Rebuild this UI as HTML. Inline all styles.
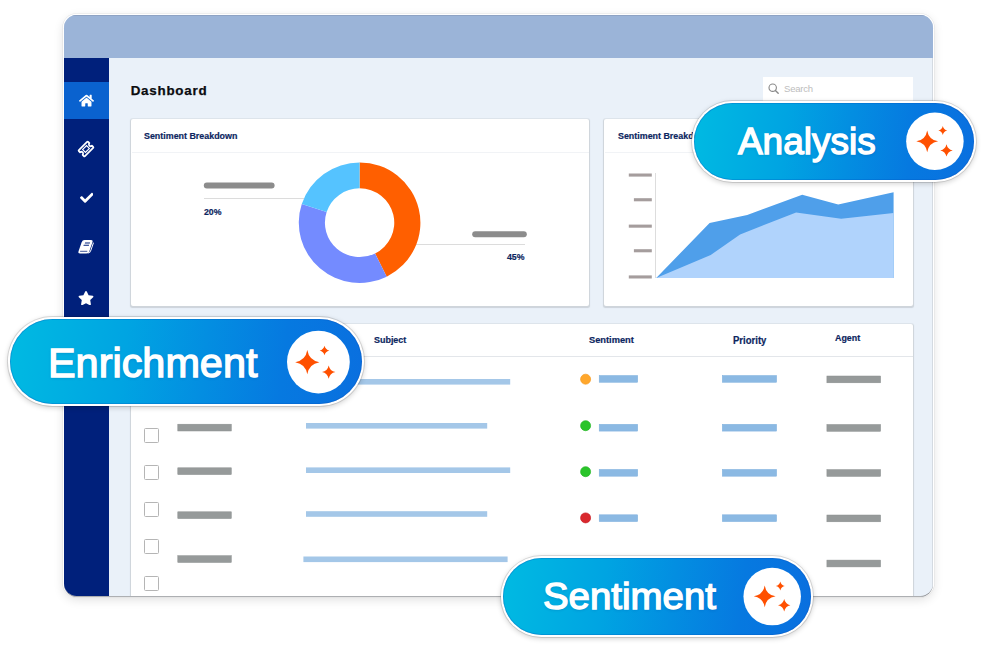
<!DOCTYPE html>
<html>
<head>
<meta charset="utf-8">
<style>
*{box-sizing:border-box;margin:0;padding:0}
html,body{width:985px;height:646px;overflow:hidden;background:#fff;font-family:"Liberation Sans",sans-serif;}
body{position:relative}
.abs{position:absolute}
#win{position:absolute;left:64.3px;top:15px;width:868.8px;height:581px;border-radius:12.5px;overflow:hidden;background:#eaf1f9;
  box-shadow:0 .8px 0 0 rgba(110,112,118,.75),0 0 0 1.2px #fff,0 0 0 1.7px rgba(0,0,0,.08),0 3px 11px rgba(0,0,0,.14);}
#titlebar{position:absolute;left:0;top:0;width:100%;height:43px;background:#9bb4d8;border-top:1px solid #8ea3c4}
#side{position:absolute;left:0;top:43px;width:44.4px;bottom:0;background:#00207b}
#side .act{position:absolute;left:0;top:24px;width:44.4px;height:37px;background:#0a62cf}
.card{position:absolute;background:#fff;border-radius:2px;box-shadow:0 0 0 1px rgba(208,214,220,.45),.3px .8px .8px .5px rgba(178,184,190,.5)}
.h{position:absolute;font-weight:bold;color:#0b2560;font-size:9.9px;white-space:nowrap;line-height:1;transform-origin:0 0;-webkit-text-stroke:.2px #0b2560}
.cb{position:absolute;width:15px;height:15px;border:1px solid #b5b5b5;border-radius:1.5px;background:#fff;left:143.8px}
.pill{position:absolute;border-radius:60px;
  background:linear-gradient(97deg,#00b9e2 2%,#00a4e2 33%,#038ee1 55%,#0679e0 77%,#0a6fdf 100%);
  box-shadow:inset 0 0 0 .8px rgba(0,80,190,.35),0 0 0 2.1px #fff,0 0 0 3px rgba(0,0,0,.12),0 1.5px 5px 2.6px rgba(0,0,0,.17);}
.pill .t{position:absolute;color:#fff;white-space:nowrap;line-height:1;font-weight:normal;-webkit-text-stroke:1.35px #fff;transform-origin:0 0;text-shadow:0 1px 3px rgba(0,40,120,.25)}
</style>
</head>
<body>

<div id="win">
  <div id="titlebar"></div>
  <div style="position:absolute;right:0;top:43px;bottom:0;width:1px;background:#d4dae1"></div>
  <div id="side">
    <div class="act"></div>
  </div>
  <div id="in" style="position:absolute;left:-64.3px;top:-15px;width:985px;height:646px">
<!-- sidebar icons (page coords) -->
<svg class="abs" style="left:79.2px;top:94.3px" width="15" height="13.3" viewBox="0 0 576 512"><path fill="#fff" d="M280.37 148.26L96 300.11V464a16 16 0 0 0 16 16l112.06-.29a16 16 0 0 0 15.92-16V368a16 16 0 0 1 16-16h64a16 16 0 0 1 16 16v95.640a16 16 0 0 0 16 16.050L464 480a16 16 0 0 0 16-16V300L295.670 148.260a12.190 12.190 0 0 0-15.300 0zM571.600 251.470L488 182.560V44.050a12 12 0 0 0-12-12h-56a12 12 0 0 0-12 12v72.610L318.470 43a48 48 0 0 0-61 0L4.340 251.470a12 12 0 0 0-1.600 16.900l25.500 31A12 12 0 0 0 45.150 301l235.220-193.740a12.190 12.190 0 0 1 15.300 0L530.900 301a12 12 0 0 0 16.900-1.600l25.500-31a12 12 0 0 0-1.700-16.930z"/></svg>

<svg class="abs" style="left:74px;top:137.300px;overflow:visible" width="24" height="24" viewBox="-12 -12 24 24"><g transform="rotate(-45)" fill="none" stroke="#fff"><path stroke-width="1.700" stroke-linejoin="round" d="M-5.800,-4.300 H5.800 a.8,.8 0 0 1 .8,.8 V-1.800 a1.800,1.800 0 0 0 0,3.600 V3.500 a.8,.8 0 0 1 -.8,.8 H-5.800 a.8,.8 0 0 1 -.8,-.8 V1.800 a1.800,1.800 0 0 0 0,-3.600 V-3.500 a.8,.8 0 0 1 .8,-.8 Z"/><rect x="-2.800" y="-2" width="5.600" height="4" stroke-width="1.150"/></g></svg>

<svg class="abs" style="left:79.800px;top:190.700px" width="13.600" height="13.600" viewBox="0 0 512 512"><path fill="#fff" d="M173.898 439.404l-166.400-166.400c-9.997-9.997-9.997-26.206 0-36.204l36.203-36.204c9.997-9.998 26.207-9.998 36.204 0L192 312.690 432.095 72.596c9.997-9.997 26.207-9.997 36.204 0l36.203 36.204c9.997 9.997 9.997 26.206 0 36.204l-294.400 294.401c-9.998 9.997-26.207 9.997-36.204-.001z"/></svg>

<svg class="abs" style="left:76px;top:238px;overflow:visible" width="20" height="18" viewBox="0 0 20 18"><g transform="translate(6.400,2) skewX(-19)"><rect x="0" y="0" width="10.800" height="13.400" rx="2.200" fill="#fff"/><rect x="3.600" y="2.600" width="5" height="1" fill="#00207b"/><rect x="3" y="4.800" width="5.400" height="1" fill="#00207b"/><path d="M1.600,11.300 H8.800" stroke="#00207b" stroke-width=".7" fill="none"/><path d="M12,3 V10.500 Q12,12.500 10.300,13" stroke="#fff" stroke-width="1" fill="none" stroke-linecap="round"/></g></svg>

<svg class="abs" style="left:78px;top:290.700px" width="16" height="14.200" viewBox="0 0 576 512"><path fill="#fff" d="M259.300 17.800L194 150.200 47.900 171.500c-26.200 3.800-36.700 36.100-17.700 54.600l105.700 103-25 145.500c-4.500 26.300 23.200 46 46.400 33.700L288 439.600l130.700 68.700c23.200 12.200 50.900-7.400 46.400-33.700l-25-145.500 105.700-103c19-18.500 8.500-50.800-17.700-54.600L382 150.200 316.700 17.800c-11.700-23.600-45.600-23.900-57.400 0z"/></svg>

<!-- Title + search -->
<div class="abs" style="left:130.700px;top:84px;transform:translateY(.2px);font-weight:bold;font-size:13.400px;letter-spacing:.75px;color:#0b0b0f;-webkit-text-stroke:.25px #0b0b0f;line-height:1;white-space:nowrap">Dashboard</div>

<div class="abs" style="left:763px;top:77px;width:150.200px;height:30px;background:#fff"></div>
<svg class="abs" style="left:766.700px;top:81.700px;overflow:visible" width="14" height="14" viewBox="0 0 14 14"><circle cx="5.700" cy="5.700" r="3.700" fill="none" stroke="#8a8a8a" stroke-width="1.150"/><path d="M8.400,8.500 L11.200,11.300" stroke="#8a8a8a" stroke-width="1.400" stroke-linecap="round"/></svg>
<div class="abs" style="left:784px;top:84.100px;font-size:9.500px;color:#bdbdbd;line-height:1;letter-spacing:-.2px">Search</div>

<!-- Card 1 -->
<div class="card" style="left:131.400px;top:119px;width:457.600px;height:187px"></div>
<div class="abs" style="left:131.800px;top:152.300px;width:456.800px;height:1px;background:#f1f3f6"></div>
<div class="h" style="left:144.200px;top:131.300px;transform:scaleX(.9)">Sentiment Breakdown</div>
<div class="abs" style="left:204px;top:198px;width:100px;height:1px;background:#dcdcdc"></div>
<div class="h" style="left:204.300px;top:206.600px;font-size:9.900px;transform:scaleX(.885)">20%</div>
<div class="abs" style="left:415px;top:243.500px;width:109.500px;height:1px;background:#dcdcdc"></div>
<div class="h" style="left:506.600px;top:251.600px;font-size:9.900px;transform:scaleX(.885)">45%</div>
<svg class="abs" style="left:298px;top:161px" width="124" height="124" viewBox="-62 -62 124 124">
  <g transform="translate(-.4,-.3) scale(1.005,.996)">
  <path fill="#ff5f00" d="M0,-60.500 A60.500,60.500 0 0 1 26.990,54.150 L15.390,30.870 A34.500,34.500 0 0 0 0,-34.500 Z"/>
  <path fill="#748bff" d="M26.990,54.150 A60.500,60.500 0 0 1 -57.540,-18.700 L-32.810,-10.660 A34.500,34.500 0 0 0 15.390,30.870 Z"/>
  <path fill="#55c3ff" d="M-57.540,-18.700 A60.500,60.500 0 0 1 0,-60.500 L0,-34.500 A34.500,34.500 0 0 0 -32.810,-10.660 Z"/>
  </g>
</svg>

<!-- Card 2 -->
<div class="card" style="left:604.300px;top:119px;width:308.700px;height:187px"></div>
<div class="abs" style="left:605px;top:152.300px;width:307.500px;height:1px;background:#f1f3f6"></div>
<div class="h" style="left:618.100px;top:131.300px;transform:scaleX(.9)">Sentiment Breakdown</div>
<div class="abs" style="left:655px;top:173px;width:1px;height:105px;background:#ddd"></div>

<!-- Table -->
<div class="card" style="left:131.400px;top:324.100px;width:782.100px;height:280px"></div>
<div class="abs" style="left:131.800px;top:356px;width:781px;height:1px;background:#e3e6ea"></div>
<div class="h" style="left:373.500px;top:335px;transform:scaleX(.905)">Subject</div>
<div class="h" style="left:589.300px;top:335px;transform:scaleX(.94)">Sentiment</div>
<div class="h" style="left:732.500px;top:335.600px;font-size:10.200px;transform:scaleX(.935)">Priority</div>
<div class="h" style="left:835px;top:333.400px;font-size:9.600px;transform:scaleX(.925)">Agent</div>

<div class="cb" style="top:428.300px"></div>
<div class="cb" style="top:465.300px"></div>
<div class="cb" style="top:502.200px"></div>
<div class="cb" style="top:539px"></div>
<div class="cb" style="top:576px"></div>







<svg class="abs" style="left:0;top:0;pointer-events:none" width="985" height="646" viewBox="0 0 985 646">
  <rect x="628.8" y="173.5" width="23.0" height="3.1" fill="#a59d9d"/>
  <rect x="633.9" y="198.2" width="17.9" height="3.1" fill="#a59d9d"/>
  <rect x="628.8" y="224.6" width="23.0" height="3.1" fill="#a59d9d"/>
  <rect x="633.9" y="249.2" width="17.9" height="3.1" fill="#a59d9d"/>
  <rect x="628.8" y="275.4" width="23.0" height="3.1" fill="#a59d9d"/>
  <rect x="306.0" y="379.0" width="204.2" height="5.6" fill="#a4c7e8"/>
  <rect x="306.0" y="423.0" width="181.2" height="5.6" fill="#a4c7e8"/>
  <rect x="306.0" y="467.4" width="204.2" height="5.6" fill="#a4c7e8"/>
  <rect x="306.0" y="511.2" width="181.2" height="5.6" fill="#a4c7e8"/>
  <rect x="303.4" y="556.5" width="204.2" height="5.6" fill="#a4c7e8"/>
  <rect x="599.2" y="375.5" width="38.5" height="6.8" fill="#8bb9e3" stroke="#7fb0de" stroke-width=".5"/>
  <rect x="599.2" y="424.3" width="38.5" height="6.8" fill="#8bb9e3" stroke="#7fb0de" stroke-width=".5"/>
  <rect x="599.2" y="469.4" width="38.5" height="6.8" fill="#8bb9e3" stroke="#7fb0de" stroke-width=".5"/>
  <rect x="599.2" y="514.8" width="38.5" height="6.8" fill="#8bb9e3" stroke="#7fb0de" stroke-width=".5"/>
  <rect x="722.3" y="375.5" width="54.3" height="6.8" fill="#8bb9e3" stroke="#7fb0de" stroke-width=".5"/>
  <rect x="722.3" y="424.3" width="54.3" height="6.8" fill="#8bb9e3" stroke="#7fb0de" stroke-width=".5"/>
  <rect x="722.3" y="469.4" width="54.3" height="6.8" fill="#8bb9e3" stroke="#7fb0de" stroke-width=".5"/>
  <rect x="722.3" y="514.8" width="54.3" height="6.8" fill="#8bb9e3" stroke="#7fb0de" stroke-width=".5"/>
  <rect x="177.8" y="424.2" width="53.5" height="6.8" fill="#969a9a" stroke="#8a8e8e" stroke-width=".5"/>
  <rect x="177.8" y="467.8" width="53.5" height="6.8" fill="#969a9a" stroke="#8a8e8e" stroke-width=".5"/>
  <rect x="177.8" y="511.8" width="53.5" height="6.8" fill="#969a9a" stroke="#8a8e8e" stroke-width=".5"/>
  <rect x="177.8" y="555.7" width="53.5" height="6.8" fill="#969a9a" stroke="#8a8e8e" stroke-width=".5"/>
  <rect x="826.9" y="376.0" width="53.7" height="6.8" fill="#969a9a" stroke="#8a8e8e" stroke-width=".5"/>
  <rect x="826.9" y="424.5" width="53.7" height="6.8" fill="#969a9a" stroke="#8a8e8e" stroke-width=".5"/>
  <rect x="826.9" y="469.6" width="53.7" height="6.8" fill="#969a9a" stroke="#8a8e8e" stroke-width=".5"/>
  <rect x="826.9" y="515.0" width="53.7" height="6.8" fill="#969a9a" stroke="#8a8e8e" stroke-width=".5"/>
  <rect x="826.9" y="560.1" width="53.7" height="6.8" fill="#969a9a" stroke="#8a8e8e" stroke-width=".5"/>
  <rect x="203.8" y="182.5" width="70.8" height="6.1" fill="#8c8c8c" rx="3"/>
  <rect x="472.2" y="231.2" width="54.6" height="6.1" fill="#8c8c8c" rx="3"/>
  <circle cx="585.600" cy="379.200" r="5" fill="#ffa72c" stroke="#f59b22" stroke-width=".7"/>
  <circle cx="585.600" cy="425.700" r="5" fill="#2ac42a" stroke="#22b422" stroke-width=".7"/>
  <circle cx="585.600" cy="471.700" r="5" fill="#2ac42a" stroke="#22b422" stroke-width=".7"/>
  <circle cx="585.600" cy="517.900" r="5" fill="#d9282d" stroke="#c82026" stroke-width=".7"/>
  <polygon fill="#4f9fea" points="656.200,278 709.600,223 747.200,215 802.200,194.800 838.200,204.500 893.600,192.300 893.600,278"/>
  <polygon fill="#b0d3fc" points="656.200,278 710.700,255.100 740.100,234.400 796.100,212.600 841.200,218.700 893.600,213 893.600,278"/>
</svg>
  </div>
</div>

<!-- Pills -->
<div class="pill" style="left:694.400px;top:102.800px;width:280px;height:76.900px">
  <div class="t" style="left:43.500px;top:20.300px;font-size:37px;transform:scaleX(1)">Analysis</div>
</div>

<div class="pill" style="left:10px;top:319.300px;width:351.600px;height:84.800px">
  <div class="t" style="left:38px;top:23.300px;font-size:41px;transform:scaleX(1.01)">Enrichment</div>
</div>

<div class="pill" style="left:503px;top:558.300px;width:308.300px;height:76.900px">
  <div class="t" style="left:40.200px;top:19.400px;font-size:37px;transform:scaleX(1.038)">Sentiment</div>
</div>

<svg class="abs" style="left:0;top:0;pointer-events:none" width="985" height="646" viewBox="0 0 985 646">
  <g fill="#fff">
    <circle cx="934.900" cy="141.300" r="28.750"/>
    <circle cx="318.400" cy="362.100" r="31.400"/>
    <circle cx="772.200" cy="596.600" r="28.750"/>
  </g>
  <g fill="#ff5000">
    <path transform="translate(927.200,141.300) scale(10.900)" d="M0,-1Q.14,-.14 1,0Q.14,.14 0,1Q-.14,.14 -1,0Q-.14,-.14 0,-1Z"/>
    <path transform="translate(942.800,130.600) scale(4.500)" d="M0,-1Q.2,-.2 1,0Q.2,.2 0,1Q-.2,.2 -1,0Q-.2,-.2 0,-1Z"/>
    <path transform="translate(946.500,150.400) scale(6.200)" d="M0,-1Q.18,-.18 1,0Q.18,.18 0,1Q-.18,.18 -1,0Q-.18,-.18 0,-1Z"/>
    <path transform="translate(307.300,362.200) scale(12.100)" d="M0,-1Q.14,-.14 1,0Q.14,.14 0,1Q-.14,.14 -1,0Q-.14,-.14 0,-1Z"/>
    <path transform="translate(324.500,350.500) scale(4.800)" d="M0,-1Q.2,-.2 1,0Q.2,.2 0,1Q-.2,.2 -1,0Q-.2,-.2 0,-1Z"/>
    <path transform="translate(328.700,372.100) scale(6.700)" d="M0,-1Q.18,-.18 1,0Q.18,.18 0,1Q-.18,.18 -1,0Q-.18,-.18 0,-1Z"/>
    <path transform="translate(764.700,596.300) scale(10.900)" d="M0,-1Q.14,-.14 1,0Q.14,.14 0,1Q-.14,.14 -1,0Q-.14,-.14 0,-1Z"/>
    <path transform="translate(780.300,585.900) scale(4.500)" d="M0,-1Q.2,-.2 1,0Q.2,.2 0,1Q-.2,.2 -1,0Q-.2,-.2 0,-1Z"/>
    <path transform="translate(784.200,605.200) scale(6.200)" d="M0,-1Q.18,-.18 1,0Q.18,.18 0,1Q-.18,.18 -1,0Q-.18,-.18 0,-1Z"/>
  </g>
</svg>

</body>
</html>
